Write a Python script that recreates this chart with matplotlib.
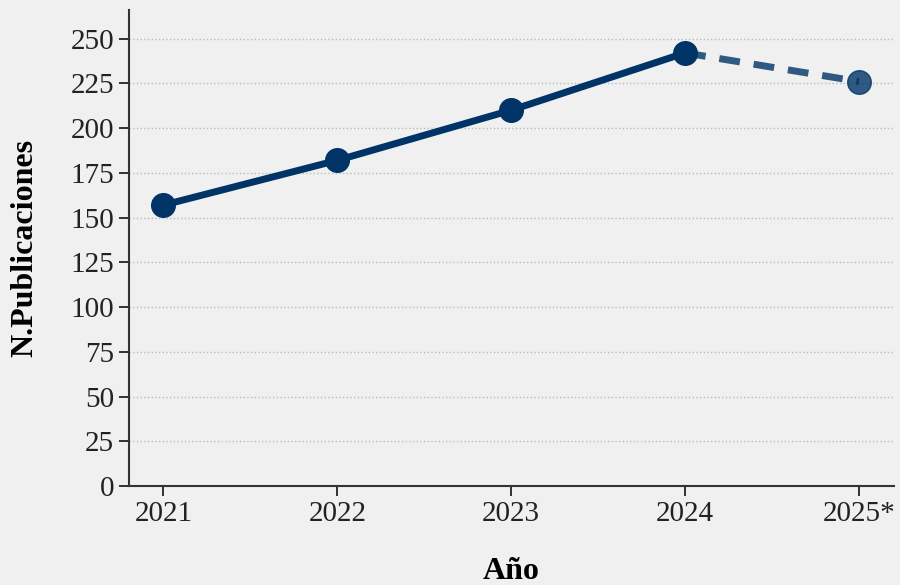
import matplotlib
matplotlib.use("Agg")
import matplotlib.pyplot as plt
import numpy as np

anios = ["2021", "2022", "2023", "2024", "2025*"]
publicaciones = [157, 182, 210, 242, 226]

plt.rcParams['font.family'] = ['Liberation Serif', 'DejaVu Serif']

color = '#003366'
fondo = '#f0f0f0'

fig = plt.figure(figsize=(9, 5.85), dpi=100, facecolor=fondo)
ax = fig.add_axes([0.143, 0.169, 0.850, 0.814])
ax.set_facecolor(fondo)

x = np.arange(len(anios))
# tramo real
ax.plot(x[:4], publicaciones[:4], color=color, lw=5, marker='o', ms=17, zorder=3)
# estimacion
ax.plot(x[3:], publicaciones[3:], color=color, lw=5, ls=(0, (3, 2)), alpha=0.8, zorder=2)
ax.plot(x[4], publicaciones[4], marker='o', ms=17, color=color, alpha=0.8, zorder=3)

ax.set_xticks(x)
ax.set_xticklabels(anios)
ax.set_xlim(-0.2, 4.2)
ax.set_ylim(0, 266)
ax.set_yticks(np.arange(0, 251, 25))

ax.yaxis.grid(True, ls=':', color='#bbbbbb', lw=1)
ax.set_axisbelow(True)
for s in ['top', 'right']:
    ax.spines[s].set_visible(False)
for s in ['left', 'bottom']:
    ax.spines[s].set_color('#333333')
    ax.spines[s].set_linewidth(1.5)
ax.tick_params(labelsize=21, colors='#222222', length=7, width=1.3)

ax.set_ylabel('N.Publicaciones', fontsize=23, fontweight='bold', labelpad=22)
ax.set_xlabel('Año', fontsize=23, fontweight='bold', labelpad=22)

fig.savefig('out.png', dpi=100, facecolor=fondo)
